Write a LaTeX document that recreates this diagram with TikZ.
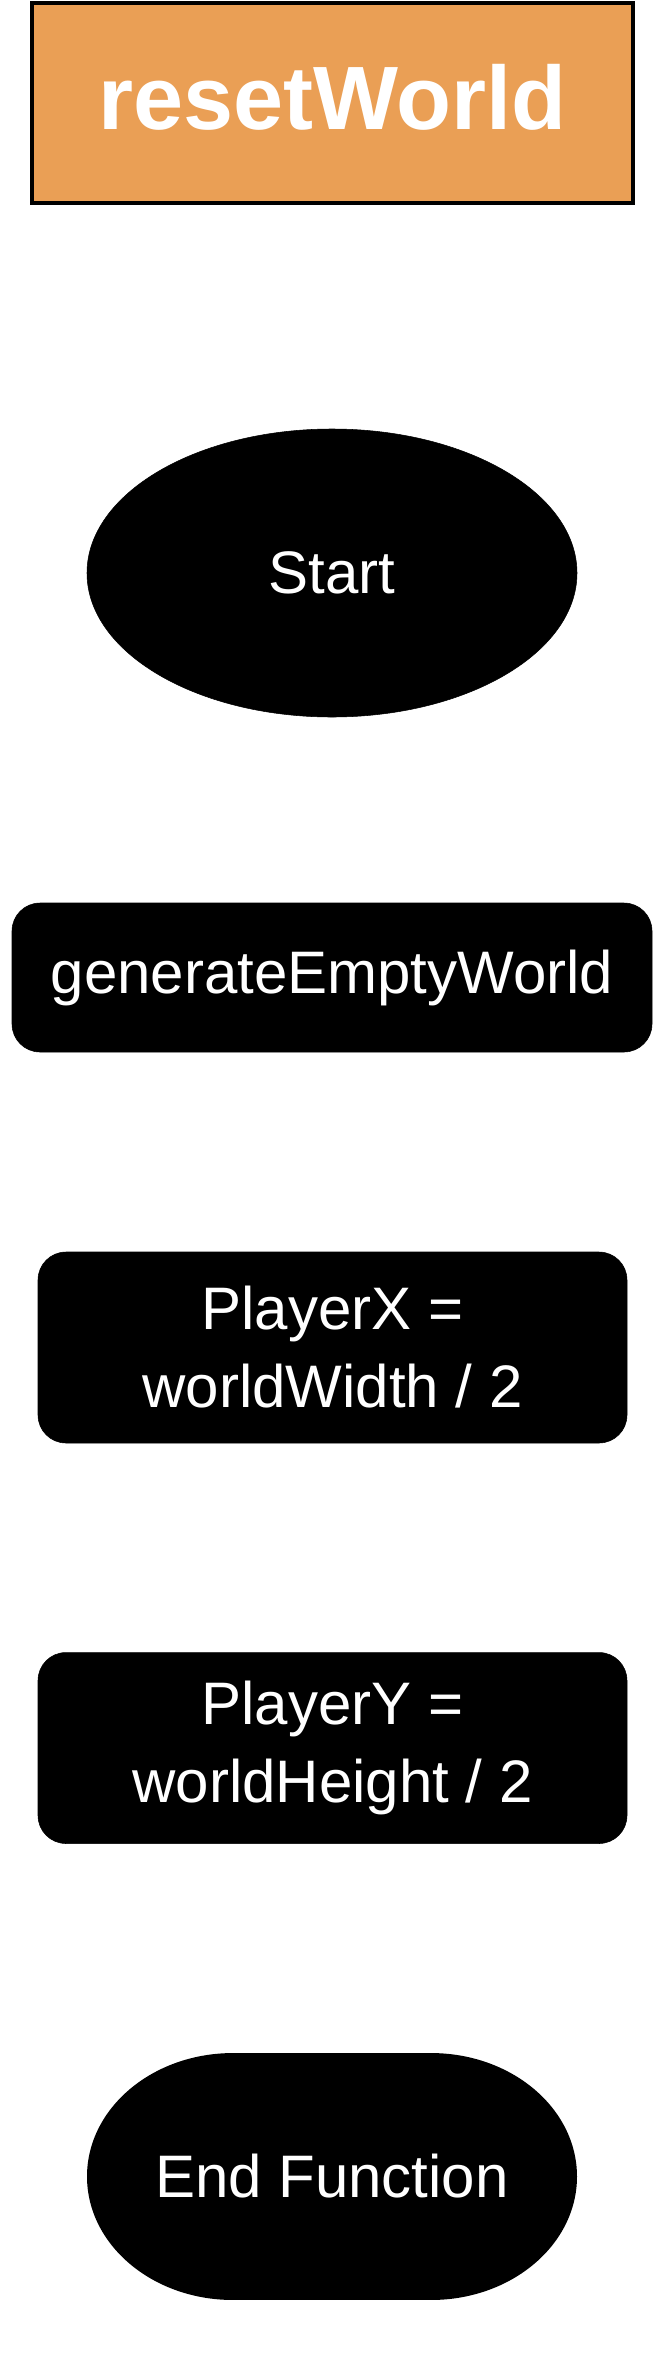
\documentclass[tikz,border=0pt]{standalone}
\usepackage{fontspec}
\setmainfont{Liberation Sans}
\usetikzlibrary{shapes.geometric}

\begin{document}
\begin{tikzpicture}[x=0.75pt,y=-0.75pt,
	title/.style={draw=black, line width=3pt, fill={rgb,255:red,234;green,159;blue,85}, text=white,
		minimum width=450.75pt, minimum height=150pt, inner sep=0pt, text depth=9pt,
		font=\fontsize{67.5pt}{80pt}\selectfont\bfseries},
	startnode/.style={ellipse, fill=black, draw=black, text=white,
		minimum width=367.5pt, minimum height=216pt, inner sep=0pt,
		font=\fontsize{45pt}{58pt}\selectfont},
	procbox/.style={rectangle, rounded corners=21pt, fill=black, draw=black, text=white,
		minimum width=441.75pt, minimum height=143.25pt, inner sep=0pt, align=center,
		font=\fontsize{45pt}{58.5pt}\selectfont},
	endnode/.style={rectangle, text=white,
		minimum width=367.5pt, minimum height=185.25pt, inner sep=0pt,
		font=\fontsize{45pt}{58pt}\selectfont}]
	\useasboundingbox (0,0) rectangle (660,2355);

	\node[title] (Title) at (332.5,103) {resetWorld};
	\node[startnode] (Start) at (332,573) {Start};
	\node[procbox, minimum width=480pt, minimum height=111.75pt] (Gen) at (332,977.5) {generateEmptyWorld};
	\node[procbox] (PX) at (332.5,1347.5) {PlayerX =\\worldWidth / 2};
	\node[procbox] (PY) at (332.5,1748) {PlayerY =\\worldHeight / 2};
	% terminator with elliptic ends
	\coordinate (endc) at (332,2176.5);
	\fill[black] ([xshift=-74.25pt,yshift=92.6pt]endc) -- ([xshift=74.25pt,yshift=92.6pt]endc)
		arc[start angle=90, end angle=-90, x radius=109.5pt, y radius=92.6pt]
		-- ([xshift=-74.25pt,yshift=-92.6pt]endc)
		arc[start angle=-90, end angle=-270, x radius=109.5pt, y radius=92.6pt] -- cycle;
	\node[endnode] (End) at (endc) {End Function};
\end{tikzpicture}
\end{document}
